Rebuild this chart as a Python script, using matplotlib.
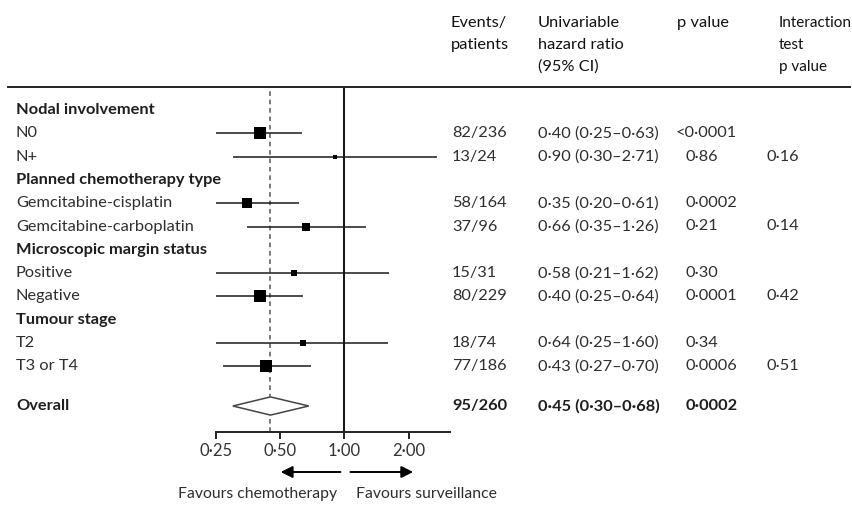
import numpy as np
import matplotlib
matplotlib.use("Agg")
import matplotlib.pyplot as plt
import matplotlib.transforms as mtransforms
from matplotlib.lines import Line2D
from matplotlib.patches import Polygon

# ---------------- data ----------------
headings = ["Nodal involvement", "Planned chemotherapy type",
            "Microscopic margin status", "Tumour stage"]
subgroups = [["N0", "N+"],
             ["Gemcitabine-cisplatin", "Gemcitabine-carboplatin"],
             ["Positive", "Negative"],
             ["T2", "T3 or T4"]]
hr = [0.40, 0.90, 0.35, 0.66, 0.58, 0.40, 0.64, 0.43]
ci_low = [0.25, 0.30, 0.20, 0.35, 0.21, 0.25, 0.25, 0.27]
ci_high = [0.63, 2.71, 0.61, 1.26, 1.62, 0.64, 1.60, 0.70]
events = [82, 13, 58, 37, 15, 80, 18, 77]
patients = [236, 24, 164, 96, 31, 229, 74, 186]
p_values = ["<0·0001", "0·86", "0·0002", "0·21", "0·30", "0·0001", "0·34", "0·0006"]
interaction_p = ["", "0·16", "", "0·14", "", "0·42", "", "0·51"]

overall_hr = 0.45
overall_low = 0.30
overall_high = 0.68
overall_events = 95
overall_patients = 260
overall_p = "0·0002"

tick_values = [0.25, 0.5, 1.0, 2.0]
tick_labels = ["0·25", "0·50", "1·00", "2·00"]

# ---------------- figure ----------------
plt.rcParams['font.family'] = ['Lato', 'DejaVu Sans']
W, H = 853, 507
fig = plt.figure(figsize=(W / 100, H / 100), dpi=100)

def fx(px):
    return px / W

def fy(py):
    return 1 - py / H

ax_left, ax_right, ax_top, ax_bottom = 216, 450, 87, 431.7
ax = fig.add_axes([fx(ax_left), fy(ax_bottom), fx(ax_right - ax_left),
                   (ax_bottom - ax_top) / H])
ax.set_xscale('log', base=2)
ax.set_xlim(0.25, 2 ** ((ax_right - 344) / 64.5))
row0_px, row_step = 110, 23.3
ax.set_ylim((ax_bottom - row0_px) / row_step, (ax_top - row0_px) / row_step)

for s in ['top', 'right', 'left']:
    ax.spines[s].set_visible(False)
ax.spines['bottom'].set_linewidth(1.4)
ax.spines['bottom'].set_color('#222222')
ax.set_yticks([])
ax.set_xticks(tick_values)
ax.set_xticklabels(tick_labels)
ax.xaxis.set_minor_locator(matplotlib.ticker.NullLocator())
ax.tick_params(axis='x', direction='out', length=5, width=1.4, color='#222222',
               labelsize=12, labelcolor='#333333', pad=3)
ax.patch.set_alpha(0)

text_tr = mtransforms.blended_transform_factory(fig.transFigure, ax.transData)
TXT = '#2e2e2e'
BOLD = '#1e1e1e'
FS = 11.8

# rows
row = 0
k = 0
for head, subs in zip(headings, subgroups):
    ax.text(fx(16), row, head, transform=text_tr, ha='left', va='center',
            fontsize=FS, fontweight='bold', color=BOLD)
    row += 1
    for name in subs:
        ax.text(fx(16), row, name, transform=text_tr, ha='left', va='center',
                fontsize=FS, color=TXT)
        ax.plot([ci_low[k], ci_high[k]], [row, row], color='#1a1a1a', lw=1.1,
                solid_capstyle='butt', zorder=3)
        side_px = 1.38 * np.sqrt(events[k])
        ax.plot([hr[k]], [row], marker='s', ms=side_px * 0.72, color='black',
                mec='black', mew=0, zorder=4)
        ax.text(fx(452), row, f"{events[k]}/{patients[k]}", transform=text_tr,
                ha='left', va='center', fontsize=FS, color=TXT)
        hr_txt = f"{hr[k]:.2f} ({ci_low[k]:.2f}–{ci_high[k]:.2f})".replace('.', '·')
        ax.text(fx(538), row, hr_txt, transform=text_tr, ha='left', va='center',
                fontsize=FS, color=TXT)
        pv = p_values[k]
        px_p = 676 if pv.startswith('<') else 686
        ax.text(fx(px_p), row, pv, transform=text_tr, ha='left', va='center',
                fontsize=FS, color=TXT)
        if interaction_p[k]:
            ax.text(fx(767), row, interaction_p[k], transform=text_tr, ha='left',
                    va='center', fontsize=FS, color=TXT)
        row += 1
        k += 1

# overall
orow = (406 - row0_px) / row_step
half_h = 0.39
diamond = Polygon([[overall_low, orow], [overall_hr, orow - half_h],
                   [overall_high, orow], [overall_hr, orow + half_h]],
                  closed=True, facecolor='white', edgecolor='#444444', lw=1.1,
                  zorder=4)
ax.add_patch(diamond)
ax.text(fx(16), orow, "Overall", transform=text_tr, ha='left', va='center',
        fontsize=FS, fontweight='bold', color=BOLD)
ax.text(fx(452), orow, f"{overall_events}/{overall_patients}", transform=text_tr,
        ha='left', va='center', fontsize=FS, fontweight='bold', color=BOLD)
ov_txt = f"{overall_hr:.2f} ({overall_low:.2f}–{overall_high:.2f})".replace('.', '·')
ax.text(fx(538), orow, ov_txt, transform=text_tr, ha='left', va='center',
        fontsize=FS, fontweight='bold', color=BOLD)
ax.text(fx(686), orow, overall_p, transform=text_tr, ha='left', va='center',
        fontsize=FS, fontweight='bold', color=BOLD)

# reference lines
ax.axvline(1.0, color='#111111', lw=1.4, zorder=2)
ax.axvline(overall_hr, color='#555555', lw=1.1, ls=(0, (3, 2.5)), zorder=2)

# header line
fig.add_artist(Line2D([fx(8), fx(850)], [fy(ax_top), fy(ax_top)],
                      color='#222222', lw=1.4))

# header text
headers = [(451, ["Events/", "patients"], FS),
           (538, ["Univariable", "hazard ratio", "(95% CI)"], FS),
           (677, ["p value"], FS),
           (779, ["Interaction", "test", "p value"], 11.0)]
for hx, lines, fs in headers:
    for i, t in enumerate(lines):
        fig.text(fx(hx), fy(23 + 22 * i), t, ha='left', va='center',
                 fontsize=fs, fontweight='normal', color='#111111')

# arrows and favours text
arr_tr = mtransforms.blended_transform_factory(ax.transData, fig.transFigure)
ay = fy(472)
ax.annotate("", xy=(2 ** ((280 - 344) / 64.5), ay), xytext=(2 ** ((340 - 344) / 64.5), ay),
            xycoords=arr_tr, textcoords=arr_tr, annotation_clip=False,
            arrowprops=dict(arrowstyle='-|>,head_length=0.7,head_width=0.35',
                            color='black', lw=1.4, shrinkA=0, shrinkB=0))
ax.annotate("", xy=(2 ** ((413 - 344) / 64.5), ay), xytext=(2 ** ((350 - 344) / 64.5), ay),
            xycoords=arr_tr, textcoords=arr_tr, annotation_clip=False,
            arrowprops=dict(arrowstyle='-|>,head_length=0.7,head_width=0.35',
                            color='black', lw=1.4, shrinkA=0, shrinkB=0))
fig.text(fx(337), fy(494), "Favours chemotherapy", ha='right', va='center',
         fontsize=11.3, color=TXT)
fig.text(fx(356), fy(494), "Favours surveillance", ha='left', va='center',
         fontsize=11.3, color=TXT)

fig.savefig("out.png", dpi=100)
